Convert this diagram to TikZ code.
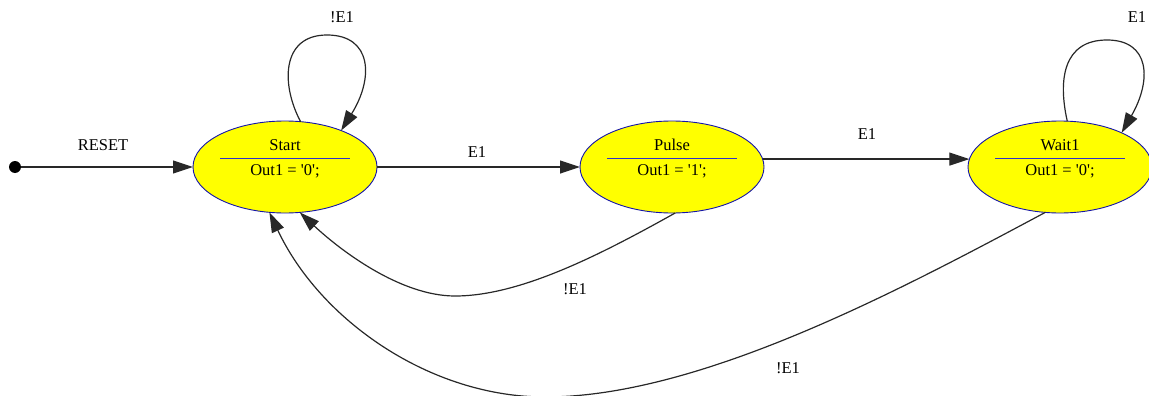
\documentclass[tikz,border=0pt]{standalone}
\usepackage{fontspec}
\setmainfont{Liberation Serif}[Ligatures=TeXOff]
\usetikzlibrary{arrows.meta,calc,shapes.geometric}

\definecolor{stfill}{RGB}{255,255,0}
\definecolor{stedge}{RGB}{20,20,170}
\definecolor{stbar}{RGB}{50,50,200}
\definecolor{wire}{RGB}{40,40,40}

\tikzset{
  state/.style={ellipse, draw=stedge, fill=stfill, line width=0.9pt,
    minimum width=184pt, minimum height=92pt, inner sep=0pt, outer sep=0pt},
  bar/.style={draw=stbar, line width=1pt},
  txt/.style={font=\fontsize{16.5}{19}\selectfont, inner sep=0pt, anchor=base},
  lbl/.style={font=\fontsize{16.5}{19}\selectfont, inner sep=0pt},
  trans/.style={draw=wire, line width=1.2pt,
    -{Triangle[length=20pt,width=13pt]}},
}

\begin{document}
\begin{tikzpicture}[x=1pt,y=-1pt]
\useasboundingbox (0,0) rectangle (1149,396);

% states
\node[state] (start) at (285,167) {};
\node[state] (pulse) at (672,167) {};
\node[state] (wait1) at (1060,167) {};

\foreach \s/\n in {start/Start, pulse/Pulse, wait1/Wait1}{
  \draw[bar] ($(\s)+(-65,-9)$) -- ($(\s)+(65,-9)$);
  \node[txt] at ($(\s)+(0,-17)$) {\n};
}
\node[txt] (startout) at ($(start)+(0,8)$) {Out1 = '0';};
\node[txt] (pulseout) at ($(pulse)+(0,8)$) {Out1 = '1';};
\node[txt] (waitout)  at ($(wait1)+(0,8)$) {Out1 = '0';};

% reset entry
\node[circle, fill=black, minimum size=12pt, inner sep=0pt] (init) at (15,167) {};
\draw[trans] (init) -- (start.west);
\node[lbl] at (103,145) {RESET};

% forward transitions
\draw[trans] (start.east) -- (pulse.west);
\node[lbl] at (477,152) {E1};
\draw[trans] (pulse.5) -- (wait1.175);
\node[lbl] at (867,134) {E1};

% self loops
\draw[trans] (start.71) .. controls (281,85) and (281,35) .. (327,35)
  .. controls (372,35) and (374,78) .. (start.33);
\node[lbl] at (342,17) {!E1};
\draw[trans] (wait1.81) .. controls (1058,80) and (1063,40) .. (1107,40)
  .. controls (1150,40) and (1152,80) .. (wait1.29);
\node[lbl] at (1137,17) {E1};

% return transitions
\coordinate (dipA) at (455,296);
\draw[trans] (pulse.-86) .. controls (600,255) and (520,296) .. (dipA)
  .. controls (400,296) and (340,250) .. (start.-72);
\node[lbl] at (575,289) {!E1};
\coordinate (dipB) at (545,397);
\draw[trans] (wait1.-108) .. controls (900,290) and (700,397) .. (dipB)
  .. controls (430,397) and (320,320) .. (start.-109);
\node[lbl] at (788,368) {!E1};
\end{tikzpicture}
\end{document}
